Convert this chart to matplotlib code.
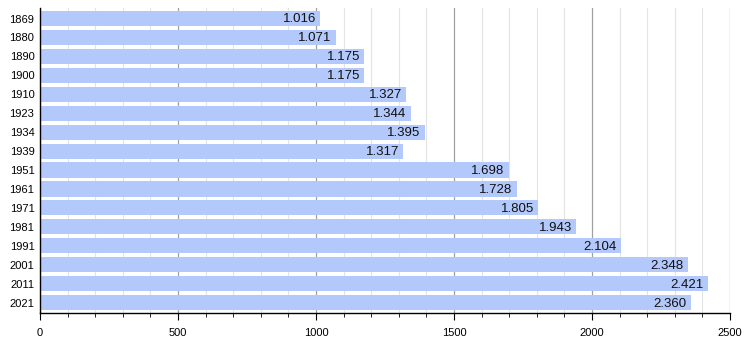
import matplotlib.pyplot as plt
from matplotlib.ticker import MultipleLocator

plt.rcParams['font.family'] = ['Liberation Sans', 'DejaVu Sans']

years = ['1869', '1880', '1890', '1900', '1910', '1923', '1934', '1939',
         '1951', '1961', '1971', '1981', '1991', '2001', '2011', '2021']
population = [1016, 1071, 1175, 1175, 1327, 1344, 1395, 1317,
              1698, 1728, 1805, 1943, 2104, 2348, 2421, 2360]


def fmt(v):
    # thousands separator as a dot
    return f'{v:,}'.replace(',', '.')


fig = plt.figure(figsize=(7.5, 3.38), dpi=100)
ax = fig.add_axes([0.0533, 0.074, 0.92, 0.902])

pos = list(range(len(years)))
ax.barh(pos, population, height=0.8, color='#b3c9fb', zorder=2)
for p, v in zip(pos, population):
    ax.text(v - 16, p + 0.05, fmt(v), ha='right', va='center', fontsize=9.5,
            color='#111111', zorder=3)

ax.set_xlim(0, 2500)
ax.set_ylim(len(years) - 0.5 + 0.05, -0.5 - 0.05)
ax.set_yticks(pos)
ax.set_yticklabels(years, fontsize=8)
ax.xaxis.set_major_locator(MultipleLocator(500))
ax.xaxis.set_minor_locator(MultipleLocator(100))
ax.tick_params(axis='x', labelsize=8, length=5, width=0.8, pad=6)
ax.tick_params(axis='x', which='minor', length=3, width=0.6)
ax.tick_params(axis='y', length=0, pad=4)

ax.grid(axis='x', which='major', color='#a0a0a0', lw=0.9, zorder=0)
ax.grid(axis='x', which='minor', color='#e4e4e4', lw=0.8, zorder=0)

for s in ['top', 'right']:
    ax.spines[s].set_visible(False)
ax.spines['left'].set_linewidth(1)
ax.spines['bottom'].set_linewidth(1)

fig.savefig('out.png', dpi=100)
